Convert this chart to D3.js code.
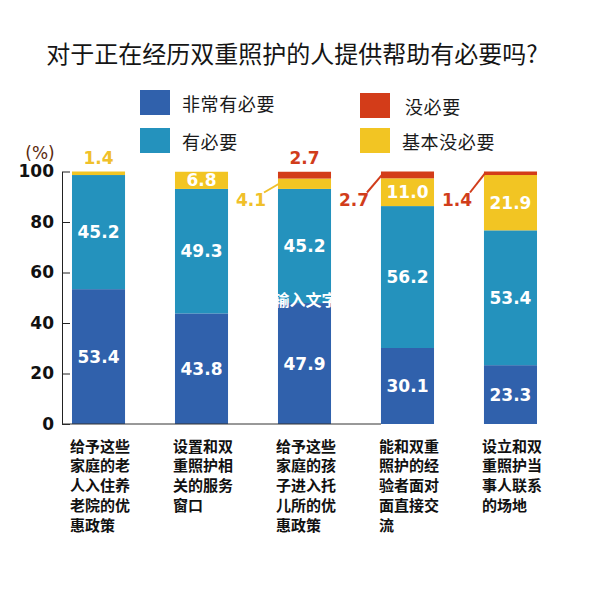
<!DOCTYPE html>
<html>
<head>
<meta charset="utf-8">
<script src="https://cdn.jsdelivr.net/npm/d3@7"></script>
<style>
  html, body { margin: 0; padding: 0; background: #fff; }
  svg { display: block; }
</style>
</head>
<body>
<svg id="chart" width="600" height="600"></svg>
<script>
// ---------------- data ----------------
const title = "对于正在经历双重照护的人提供帮助有必要吗?";
const categories = ["c1", "c2", "c3", "c4", "c5"];
const categoryLines = [
  ["给予这些", "家庭的老", "人入住养", "老院的优", "惠政策"],
  ["设置和双", "重照护相", "关的服务", "窗口"],
  ["给予这些", "家庭的孩", "子进入托", "儿所的优", "惠政策"],
  ["能和双重", "照护的经", "验者面对", "面直接交", "流"],
  ["设立和双", "重照护当", "事人联系", "的场地"]
];
const seriesNames = ["非常有必要", "有必要", "基本没必要", "没必要"];
const veryNecessary        = [53.4, 43.8, 47.9, 30.1, 23.3];
const necessary            = [45.2, 49.3, 45.2, 56.2, 53.4];
const basicallyUnnecessary = [1.4, 6.8, 4.1, 11.0, 21.9];
const unnecessary          = [0, 0, 2.7, 2.7, 1.4];
const yTicks = [0, 20, 40, 60, 80, 100];
const legendOrder = ["非常有必要", "没必要", "有必要", "基本没必要"];
const placeholderText = "输入文字";

// ---------------- style ----------------
const colors = {
  "非常有必要": "#3061ac",
  "有必要": "#2492bd",
  "基本没必要": "#f2c523",
  "没必要": "#d33c19"
};
const labelColors = { "基本没必要": "#f0c02a", "没必要": "#d13d1b" };
const CJK = "'Noto Sans CJK SC', 'Noto Sans', sans-serif";
const NUM = "'DejaVu Sans', Verdana, sans-serif";

const svg = d3.select("#chart");

const rows = categories.map((c, i) => ({
  cat: c,
  "非常有必要": veryNecessary[i],
  "有必要": necessary[i],
  "基本没必要": basicallyUnnecessary[i],
  "没必要": unnecessary[i]
}));
const stacked = d3.stack().keys(seriesNames)(rows);

const x = d3.scaleBand().domain(categories).range([62, 547])
  .paddingInner(0.485).paddingOuter(0.097);
const y = d3.scaleLinear().domain([0, 100]).range([424, 171.5]);

// title
svg.append("text")
  .attr("x", 292).attr("y", 52)
  .attr("text-anchor", "middle").attr("dominant-baseline", "central")
  .attr("font-family", CJK).attr("font-size", 24).attr("fill", "#151515")
  .text(title);

// legend
const legendPos = [
  { x: 140, y: 90, tx: 182 },
  { x: 360, y: 93, tx: 405 },
  { x: 140, y: 128, tx: 182 },
  { x: 360, y: 128, tx: 402 }
];
legendOrder.forEach((name, i) => {
  const p = legendPos[i];
  const g = svg.append("g");
  g.append("rect").attr("x", p.x).attr("y", p.y).attr("width", 30).attr("height", 25)
    .attr("fill", colors[name]);
  g.append("text").attr("x", p.tx).attr("y", p.y + 12.5)
    .attr("dominant-baseline", "central")
    .attr("font-family", CJK).attr("font-size", 18).attr("letter-spacing", 0.6)
    .attr("fill", "#1a1a1a").text(name);
});

// bars
const layers = svg.append("g").selectAll("g").data(stacked).join("g")
  .attr("fill", d => colors[d.key]);
layers.selectAll("rect").data(d => d).join("rect")
  .attr("x", d => x(d.data.cat))
  .attr("width", x.bandwidth())
  .attr("y", d => y(d[1]))
  .attr("height", d => Math.max(0, y(d[0]) - y(d[1])));

// axes
const yAxis = d3.axisLeft(y).tickValues(yTicks).tickSize(-8).tickSizeOuter(0).tickPadding(8);
const gy = svg.append("g").attr("transform", "translate(62,0)").call(yAxis);
gy.select(".domain").attr("stroke", "#222");
gy.selectAll(".tick line").attr("stroke", "#222");
gy.selectAll(".tick text").attr("font-family", NUM).attr("font-size", 17)
  .attr("font-weight", "bold").attr("fill", "#111");

svg.append("line")
  .attr("x1", 62).attr("x2", x(categories[3]))
  .attr("y1", y(0)).attr("y2", y(0))
  .attr("stroke", "#333").attr("stroke-width", 1);

svg.append("text").attr("x", 40).attr("y", 153)
  .attr("text-anchor", "middle").attr("dominant-baseline", "central")
  .attr("font-family", NUM).attr("font-size", 17).attr("fill", "#5b2a0e")
  .text("(%)");

// value labels
const labelG = svg.append("g");
stacked.forEach(layer => {
  layer.forEach((d, i) => {
    const v = d[1] - d[0];
    if (v <= 0) return;
    const cx = x(d.data.cat) + x.bandwidth() / 2;
    const mid = y((d[0] + d[1]) / 2);
    if (v >= 5) {
      labelG.append("text").attr("x", cx).attr("y", mid)
        .attr("text-anchor", "middle").attr("dominant-baseline", "central")
        .attr("font-family", NUM).attr("font-size", 17).attr("font-weight", "bold")
        .attr("fill", "#fff").text(v.toFixed(1));
    } else {
      const col = labelColors[layer.key];
      const placeTop = (layer.key === "基本没必要" && unnecessary[i] === 0) ||
                       (layer.key === "没必要" && basicallyUnnecessary[i] < 5);
      if (placeTop) {
        labelG.append("text").attr("x", cx).attr("y", y(100) - 14)
          .attr("text-anchor", "middle").attr("dominant-baseline", "central")
          .attr("font-family", NUM).attr("font-size", 17).attr("font-weight", "bold")
          .attr("fill", col).text(v.toFixed(1));
      } else {
        const left = x(d.data.cat);
        const lx = left - 27, ly = y(100) + 28;
        labelG.append("line")
          .attr("x1", lx + 13).attr("y1", ly - 7)
          .attr("x2", left + 1).attr("y2", mid)
          .attr("stroke", col).attr("stroke-width", 2);
        labelG.append("text").attr("x", lx).attr("y", ly)
          .attr("text-anchor", "middle").attr("dominant-baseline", "central")
          .attr("font-family", NUM).attr("font-size", 17).attr("font-weight", "bold")
          .attr("fill", col).text(v.toFixed(1));
      }
    }
  });
});

// stray placeholder text on the third bar (clipped to the bar)
const c3 = categories[2];
svg.append("clipPath").attr("id", "clip3").append("rect")
  .attr("x", x(c3)).attr("y", y(100)).attr("width", x.bandwidth()).attr("height", y(0) - y(100));
svg.append("text").attr("clip-path", "url(#clip3)")
  .attr("x", x(c3) + x.bandwidth() / 2 + 1).attr("y", y(49.5))
  .attr("text-anchor", "middle").attr("dominant-baseline", "central")
  .attr("font-family", CJK).attr("font-size", 16).attr("font-weight", "bold")
  .attr("fill", "#fff").text(placeholderText);

// category labels
categoryLines.forEach((lines, i) => {
  const t = svg.append("text")
    .attr("font-family", CJK).attr("font-size", 15).attr("font-weight", "bold")
    .attr("fill", "#111");
  lines.forEach((ln, j) => {
    t.append("tspan").attr("x", x(categories[i]) - 2).attr("y", 451.5 + j * 19.8).text(ln);
  });
});
</script>
</body>
</html>
